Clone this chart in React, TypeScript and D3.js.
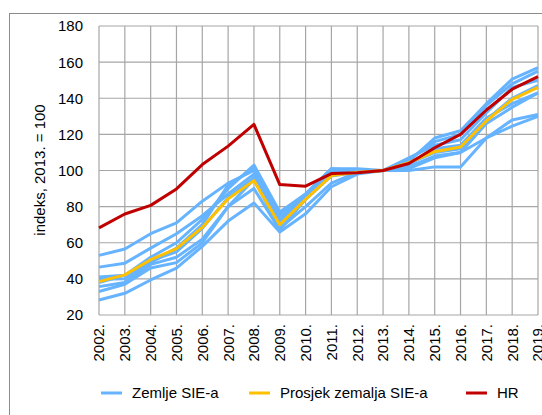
import React from "react";
import * as d3 from "d3";

const years = ["2002.", "2003.", "2004.", "2005.", "2006.", "2007.", "2008.", "2009.", "2010.", "2011.", "2012.", "2013.", "2014.", "2015.", "2016.", "2017.", "2018.", "2019."];

const countryA = [53, 56.5, 65, 71, 83, 93, 100, 76, 87, 101, 101, 100, 100, 102, 102, 118, 128, 131];
const countryB = [46.5, 48.7, 57, 65, 75, 87, 98, 72, 85, 99, 100, 100, 101, 107, 110, 118, 124.6, 130];
const countryC = [28.3, 32, 39.4, 46, 58, 72, 82, 66, 76, 91, 98, 100, 105, 118, 122, 137, 150.6, 157];
const countryD = [33, 37, 46, 49, 60, 80, 95, 68, 80, 93, 99, 100, 106, 116, 120, 136, 148, 155];
const countryE = [35.7, 38, 48, 52, 62, 80, 90, 67, 84, 97, 99, 100, 104, 110, 112, 128, 140, 147];
const countryF = [39.8, 40, 49, 57, 70, 92, 101, 74, 86, 100, 100, 100, 103, 112, 114, 129, 137, 143];
const countryG = [38, 42, 50, 55, 68, 85, 96, 70, 84, 98, 99, 100, 107, 114, 117, 132, 146, 150];
const countryH = [41, 42, 52, 60, 73, 90, 103, 77, 87, 101, 100, 100, 102, 108, 110, 126, 135, 143];
const blueSeries = [countryA, countryB, countryC, countryD, countryE, countryF, countryG, countryH];

const average = [38.5, 42.2, 50.6, 56.7, 68.5, 84.3, 94.4, 70, 84, 97.2, 99, 100, 104.3, 110.4, 113, 127.4, 139.4, 146];
const hr = [68.2, 75.9, 80.7, 89.8, 103.3, 113.5, 125.5, 92.2, 91.3, 98.3, 98.8, 100, 103.9, 112.6, 120, 133.5, 145, 152];

const yTicks = [20, 40, 60, 80, 100, 120, 140, 160, 180];

const legendItems = [
  { label: "Zemlje SIE-a", color: "#66b3ff", x: 101 },
  { label: "Prosjek zemalja SIE-a", color: "#ffc000", x: 249 },
  { label: "HR", color: "#c00000", x: 466 },
];

export default function App() {
  const W = 542, H = 415;
  const left = 99, right = 538, top = 26, bottom = 315;
  const x = d3.scalePoint<string>().domain(years).range([left, right]);
  const y = d3.scaleLinear().domain([20, 180]).range([bottom, top]);
  const line = d3
    .line<number>()
    .x((_, i) => x(years[i]) as number)
    .y((d) => y(d));
  const font = "'Liberation Sans', Arial, sans-serif";
  const grid = "#a6a6a6";

  return (
    <svg width={W} height={H} style={{ position: "absolute", left: 0, top: 0, background: "#fff" }} fontFamily={font}>
      <rect x={9.5} y={13.5} width={700} height={600} fill="#fff" stroke="#8c8c8c" strokeWidth={1} />
      {yTicks.map((t) => (
        <line key={"h" + t} x1={left} x2={right} y1={y(t)} y2={y(t)} stroke={grid} strokeWidth={1.2} />
      ))}
      {years.map((yr) => (
        <line key={"v" + yr} x1={x(yr)} x2={x(yr)} y1={top} y2={bottom} stroke={grid} strokeWidth={1.2} />
      ))}
      {yTicks.map((t) => (
        <text key={"yt" + t} x={83} y={y(t)} dy="0.36em" textAnchor="end" fontSize={15} fill="#000">
          {t}
        </text>
      ))}
      {years.map((yr) => (
        <text
          key={"xt" + yr}
          transform={`translate(${x(yr)},${324}) rotate(-90)`}
          dy="0.36em"
          textAnchor="end"
          fontSize={15}
          fill="#000"
        >
          {yr}
        </text>
      ))}
      <text transform={`translate(40,170) rotate(-90)`} dy="0.36em" textAnchor="middle" fontSize={15} fill="#000">
        indeks, 2013. = 100
      </text>
      {blueSeries.map((s, i) => (
        <path key={"b" + i} d={line(s) || ""} fill="none" stroke="#66b3ff" strokeWidth={3} strokeLinejoin="round" />
      ))}
      <path d={line(average) || ""} fill="none" stroke="#ffc000" strokeWidth={3} strokeLinejoin="round" />
      <path d={line(hr) || ""} fill="none" stroke="#c00000" strokeWidth={3} strokeLinejoin="round" />
      {legendItems.map((it) => (
        <g key={it.label}>
          <line x1={it.x} x2={it.x + 21} y1={393} y2={393} stroke={it.color} strokeWidth={3} />
          <text x={it.x + 31} y={393} dy="0.36em" fontSize={15} fill="#000">
            {it.label}
          </text>
        </g>
      ))}
    </svg>
  );
}
